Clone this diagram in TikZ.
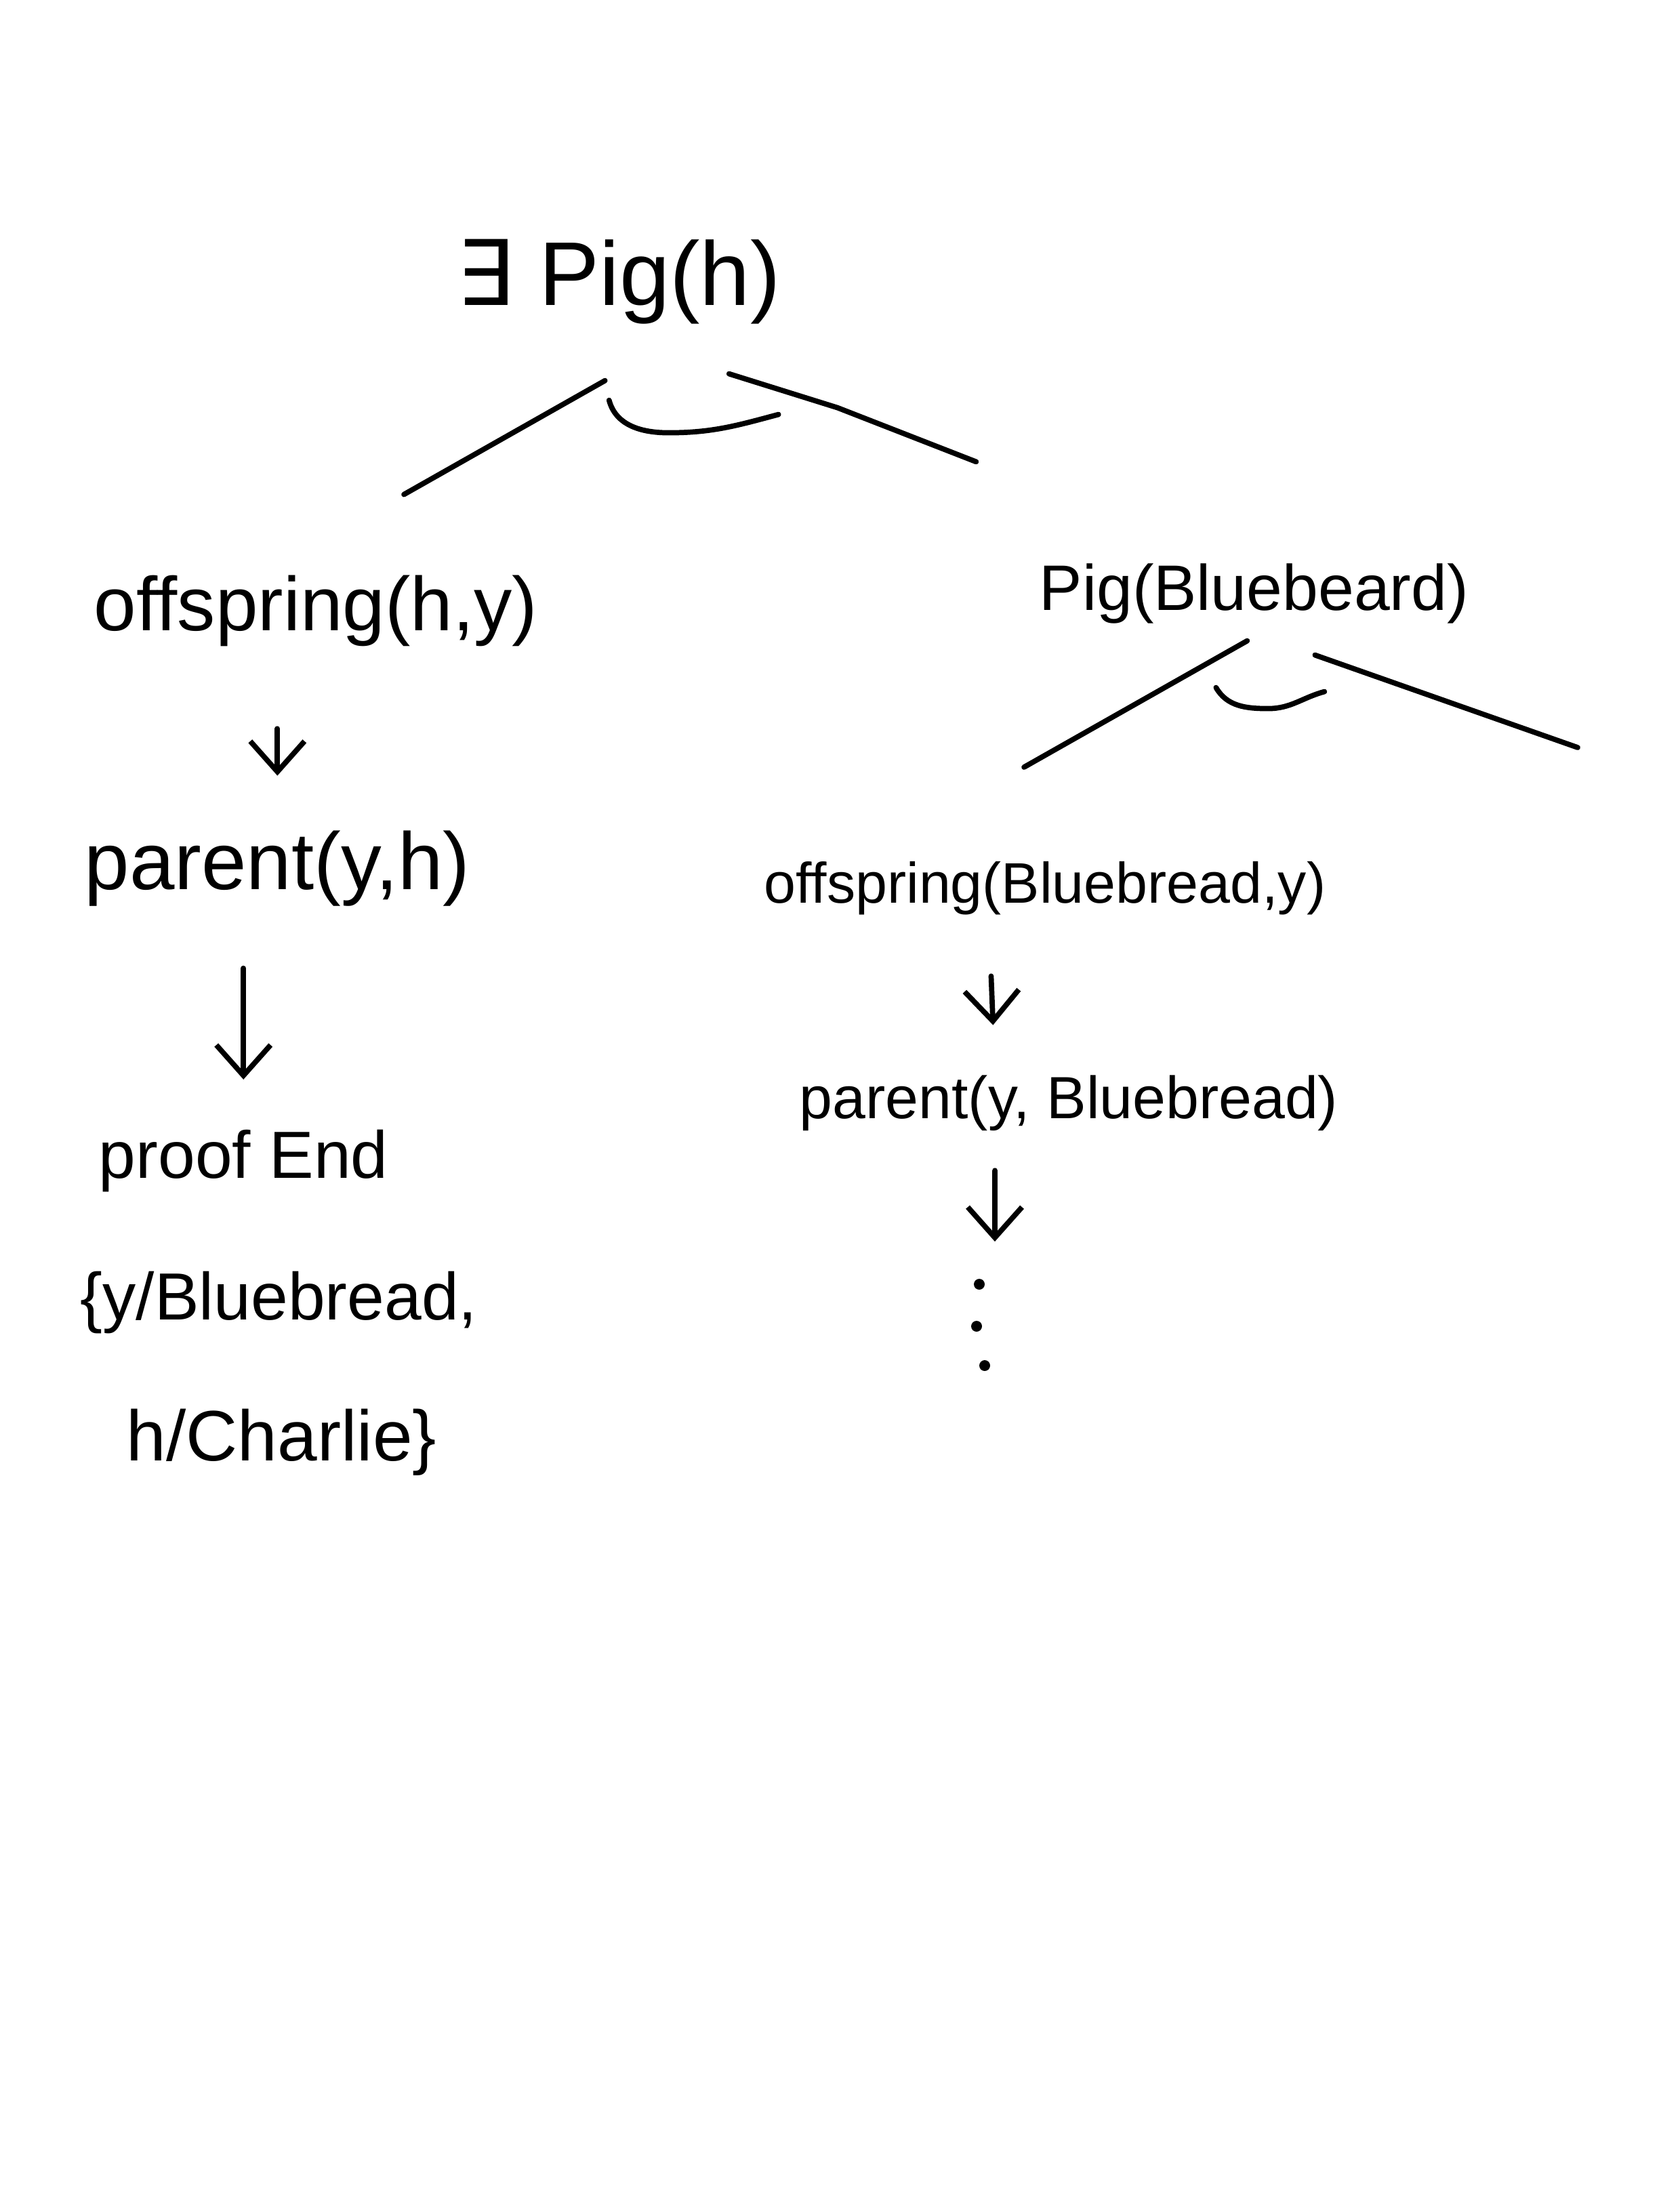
\documentclass[tikz,border=0pt]{standalone}
\usepackage{fontspec}
\setmainfont{Liberation Sans}
\newfontfamily\symfont{DejaVu Sans}
\usetikzlibrary{arrows.meta}

\begin{document}
\begin{tikzpicture}[line width=2.2pt,line cap=round,
	hw/.style={anchor=base west,inner sep=0pt,font=\fontsize{#1}{#1}\selectfont},
	arr/.style={-{Straight Barb[length=4.5mm,width=8mm]}}]
	\useasboundingbox (0,0) rectangle (24.48,-32.64);
	
	%ROOT
	\node[hw=38] (root) at (6.70,-4.50) {{\symfont ∃} Pig(h)};
	
	%LEFT BRANCH
	\node[hw=32] (offL) at (1.35,-9.30)  {offspring(h,y)};
	\node[hw=34] (parL) at (1.21,-13.12) {parent(y,h)};
	\node[hw=28] (endL) at (1.42,-17.38) {proof End};
	\node[hw=28] (subA) at (1.15,-19.47) {\{y/Bluebread,};
	\node[hw=30] (subB) at (1.83,-21.55) {h/Charlie\}};
	
	%RIGHT BRANCH
	\node[hw=27] (pigB) at (15.30,-9.00)  {Pig(Bluebeard)};
	\node[hw=24] (offR) at (11.24,-13.32) {offspring(Bluebread,y)};
	\node[hw=25] (parR) at (11.76,-16.50) {parent(y, Bluebread)};
	\coordinate (more) at (14.68,-18.32);
	\coordinate (open) at (23.28,-11.03);
	
	%AND BRANCHES
	\draw ([shift={(-0.20,-0.80)}]root.south) -- ([shift={(1.30,1.15)}]offL.north);
	\draw ([shift={(1.63,-0.70)}]root.south) -- ++(1.6,-0.5) -- ([shift={(-4.10,1.46)}]pigB.north);
	\draw ([shift={(-0.14,-1.09)}]root.south) to[out=-75,in=180] ++(0.88,-0.48) to[out=0,in=195] ++(1.62,0.27);
	%
	\draw ([shift={(-0.10,-0.22)}]pigB.south) -- ([shift={(-0.31,1.35)}]offR.north);
	\draw ([shift={(0.90,-0.43)}]pigB.south) -- (open);
	\draw ([shift={(-0.56,-0.91)}]pigB.south) to[out=-60,in=180] ++(0.77,-0.31) to[out=0,in=195] ++(0.83,0.25);
	
	%ARROWS
	\draw[arr,shorten <=1.18cm,shorten >=0.77cm] (offL.south -| parL.north) -- (parL.north);
	\draw[arr,shorten <=0.88cm,shorten >=0.70cm] (endL.north |- parL.south) -- (endL.north);
	\draw[arr,shorten <=0.87cm,shorten >=0.70cm] ([xshift=-0.83cm]offR.south) -- ([xshift=-1.09cm]parR.north);
	\draw[arr,shorten <=0.55cm] ([xshift=-1.09cm]parR.south) -- (more);
	\foreach \dx/\dy in {-0.23/-0.63,-0.27/-1.25,-0.15/-1.83}
		\fill ([shift={(\dx,\dy)}]more) circle (0.08);
\end{tikzpicture}
\end{document}
